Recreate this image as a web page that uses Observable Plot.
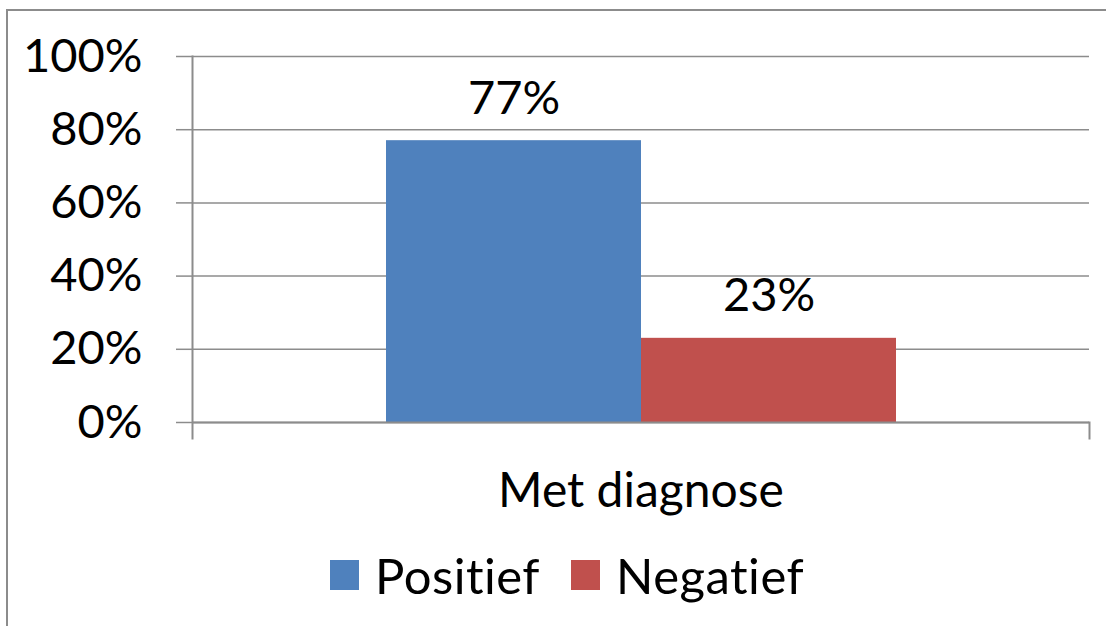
<!DOCTYPE html>
<html>
<head>
<meta charset="utf-8">
<script src="https://cdn.jsdelivr.net/npm/d3@7"></script>
<script src="https://cdn.jsdelivr.net/npm/@observablehq/plot@0.6"></script>
<style>
  html, body { margin: 0; padding: 0; background: #fff; width: 1106px; height: 626px; overflow: hidden; font-family: Lato, "Open Sans", sans-serif; font-variant-ligatures: none; }
  #border { position: absolute; left: 6px; top: 9px; width: 1120px; height: 640px; border: 2px solid #8c8c8c; box-sizing: border-box; }
  #chart { position: absolute; left: 0; top: 0; }
  #chart text { font-variant-ligatures: none; }
  #legend { position: absolute; left: 330px; top: 546px; display: flex; align-items: center; font-size: 49px; color: #000; letter-spacing: 0.5px; }
  .item { display: flex; align-items: center; }
  .item + .item { margin-left: 31px; }
  .sw { width: 29px; height: 30px; margin-right: 16px; }
</style>
</head>
<body>
<div id="border"></div>
<div id="chart"></div>
<div id="legend"></div>
<script>
const categories = ["Met diagnose"];
const series = ["Positief", "Negatief"];
const values = [77, 23];
const colors = ["#4F81BD", "#C0504D"];
const yTicks = [0, 20, 40, 60, 80, 100];

const data = series.map((s, i) => ({category: categories[0], series: s, value: values[i]}));
const grid = "#8c8c8c";

const chart = Plot.plot({
  width: 1106,
  height: 530,
  marginLeft: 192,
  marginRight: 17,
  marginTop: 56,
  marginBottom: 108,
  style: {fontFamily: "Lato, 'Open Sans', sans-serif", fontSize: "47px", color: "#000", background: "transparent"},
  fx: {domain: categories, padding: 0, label: null},
  x: {domain: series, paddingInner: 0, paddingOuter: 0.752, axis: null},
  y: {domain: [0, 100], label: null},
  color: {domain: series, range: colors},
  marks: [
    Plot.ruleY(yTicks, {stroke: grid, strokeWidth: 1.5}),
    Plot.barY(data, {fx: "category", x: "series", y: "value", fill: "series"}),
    Plot.ruleY([0], {stroke: grid, strokeWidth: 2}),
    Plot.frame({anchor: "left", stroke: grid, strokeWidth: 2, insetBottom: -16}),
    Plot.frame({anchor: "right", stroke: grid, strokeWidth: 2, insetTop: 366, insetBottom: -16}),
    Plot.axisY({ticks: yTicks, tickFormat: d => d + "%", tickSize: 16, tickPadding: 34, stroke: grid, strokeWidth: 1.5, strokeOpacity: 1, fontSize: 47, label: null}),
    Plot.axisFx({anchor: "bottom", tickSize: 0, tickPadding: 50, fontSize: 48, label: null, style: {letterSpacing: "0.5px"}}),
    Plot.text(data, {fx: "category", x: "series", y: "value", text: d => d.value + "%", dy: -42, fontSize: 47, fill: "#000"})
  ]
});
document.getElementById("chart").appendChild(chart);

const legend = document.getElementById("legend");
series.forEach((s, i) => {
  const item = document.createElement("div");
  item.className = "item";
  const sw = document.createElement("div");
  sw.className = "sw";
  sw.style.background = colors[i];
  const label = document.createElement("span");
  label.textContent = s;
  item.appendChild(sw);
  item.appendChild(label);
  legend.appendChild(item);
});
</script>
</body>
</html>
